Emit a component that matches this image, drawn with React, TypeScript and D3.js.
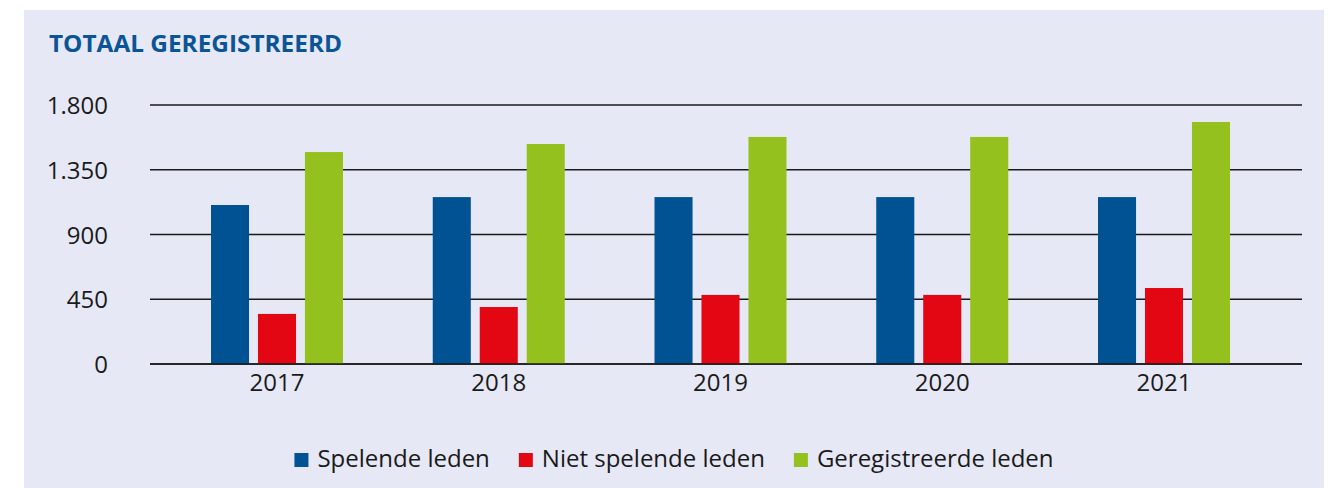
import React, { useEffect, useRef } from "react";
import * as d3 from "d3";

const years = ["2017", "2018", "2019", "2020", "2021"];
const seriesNames = ["Spelende leden", "Niet spelende leden", "Geregistreerde leden"];
const spelendeLeden = [1105, 1160, 1160, 1160, 1160];
const nietSpelendeLeden = [348, 396, 480, 480, 528];
const geregistreerdeLeden = [1473, 1529, 1578, 1578, 1682];
const yTicks = [0, 450, 900, 1350, 1800];
const title = "TOTAAL GEREGISTREERD";

const colors = ["#005293", "#e30613", "#95c11f"];
const W = 1334;
const H = 488;

export default function App() {
  const ref = useRef<SVGSVGElement | null>(null);

  useEffect(() => {
    const svg = d3.select(ref.current);
    svg.selectAll("*").remove();
    const font = "'Open Sans', 'Noto Sans', sans-serif";

    svg.append("rect").attr("x", 24).attr("y", 10).attr("width", 1300).attr("height", 490).attr("fill", "#e6e8f5");

    svg.append("text").attr("x", 49).attr("y", 52).attr("font-family", font).attr("font-weight", 700)
      .attr("font-size", 24).attr("fill", "#0b5496").attr("textLength", 293).attr("lengthAdjust", "spacingAndGlyphs").text(title);

    const y = d3.scaleLinear().domain([0, 1800]).range([364, 105]);
    const x0 = 150, x1 = 1302;

    const g = svg.append("g");
    yTicks.forEach((t) => {
      g.append("line").attr("x1", x0).attr("x2", x1).attr("y1", y(t)).attr("y2", y(t))
        .attr("stroke", "#1a1a1a").attr("stroke-width", 1.4);
      g.append("text").attr("x", 108).attr("y", y(t) + 9).attr("text-anchor", "end")
        .attr("font-family", font).attr("font-size", 24).attr("fill", "#1a1a1a")
        .text(d3.format(",")(t).replace(/,/g, "."));
    });

    const xp = d3.scalePoint<string>().domain(years).range([277, 1164]);
    const inner = d3.scaleBand<number>().domain([0, 1, 2]).range([-66, 66]).paddingInner(0.19);
    const series = [spelendeLeden, nietSpelendeLeden, geregistreerdeLeden];

    years.forEach((yr, i) => {
      const cx = xp(yr)!;
      series.forEach((s, k) => {
        g.append("rect").attr("x", cx + inner(k)!).attr("width", inner.bandwidth())
          .attr("y", y(s[i])).attr("height", y(0) - y(s[i])).attr("fill", colors[k]);
      });
      g.append("text").attr("x", cx).attr("y", 391).attr("text-anchor", "middle")
        .attr("font-family", font).attr("font-size", 24).attr("fill", "#1a1a1a").text(yr);
    });

    // redraw zero line above bars
    g.append("line").attr("x1", x0).attr("x2", x1).attr("y1", y(0)).attr("y2", y(0))
      .attr("stroke", "#1a1a1a").attr("stroke-width", 1.4);

    const leg = svg.append("g");
    let lx = 0;
    seriesNames.forEach((n, k) => {
      leg.append("rect").attr("x", lx).attr("y", -14).attr("width", 14).attr("height", 14).attr("fill", colors[k]);
      const t = leg.append("text").attr("x", lx + 23).attr("y", 0).attr("font-family", font)
        .attr("font-size", 24).attr("fill", "#1a1a1a").text(n);
      const w = (t.node() as SVGTextElement).getComputedTextLength();
      lx += 23 + w + 29;
    });
    const total = lx - 29;
    leg.attr("transform", `translate(${674 - total / 2},467)`);
  }, []);

  return (
    <svg ref={ref} width={W} height={H} style={{ position: "absolute", left: 0, top: 0, display: "block" }} />
  );
}
